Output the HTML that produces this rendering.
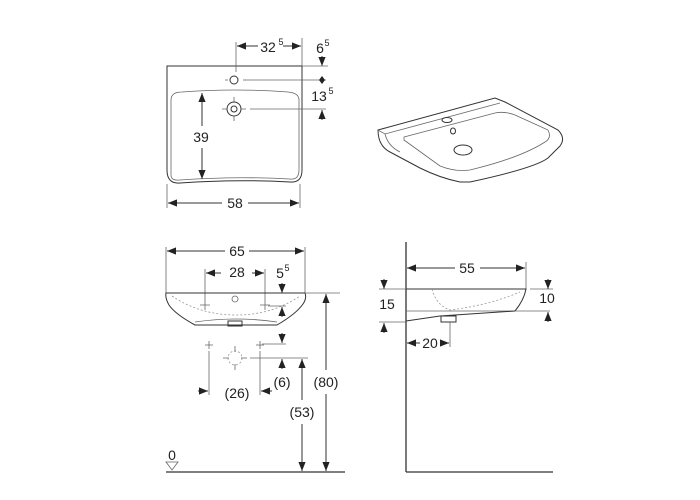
<!DOCTYPE html>
<html><head><meta charset="utf-8"><style>
html,body{margin:0;padding:0;background:#fff}
svg{display:block}
text{font-family:"Liberation Sans",sans-serif;font-size:14px;fill:#222;text-anchor:middle;dominant-baseline:central}
.s{font-size:9px}
.l{stroke:#333;stroke-width:1;fill:none}
.t{stroke:#666;stroke-width:0.8;fill:none}
.d{stroke:#999;stroke-width:0.8;fill:none;stroke-dasharray:2 2}
</style></head><body>
<svg width="700" height="500" viewBox="0 0 700 500">
<defs>
<marker id="a" viewBox="0 0 10 10" refX="10" refY="5" markerWidth="9" markerHeight="9" orient="auto-start-reverse" markerUnits="userSpaceOnUse"><path d="M0,1 L10,5 L0,9 z" fill="#222"/></marker>
</defs>
<!-- TOP VIEW -->
<path class="l" d="M167,66 L302,66 L302,170 Q302,183 290,182 Q235,179 180,183 Q167,184 167,170 Z"/>
<path class="t" d="M171,175 L171,100 Q171,92 182,92 Q235,88 288,92 Q299,93 299,100 L299,170 Q299,180 290,179 Q235,176 180,180 Q171,181 171,175"/>
<circle class="l" cx="234" cy="80" r="4"/>
<circle class="l" cx="234" cy="109" r="7"/><circle class="l" cx="234" cy="109" r="3"/>
<path class="t" d="M222,109h5M241,109h5M234,97v5M234,116v5M228,80h-3M243,80h3"/>
<line class="t" x1="236" y1="42" x2="236" y2="72"/><line class="t" x1="302" y1="38" x2="302" y2="66"/>
<line class="l" x1="237" y1="46" x2="258" y2="46" marker-start="url(#a)"/><line class="l" x1="283" y1="46" x2="301" y2="46" marker-end="url(#a)"/>
<text x="268" y="47">32</text><text class="s" x="281" y="42">5</text>
<text x="320" y="48">6</text><text class="s" x="327" y="43">5</text>
<line class="l" x1="322" y1="56" x2="322" y2="66" marker-end="url(#a)"/>
<line class="t" x1="302" y1="66" x2="328" y2="66"/>
<line class="t" x1="245" y1="80" x2="326" y2="80"/>
<path d="M322,76 L325,80 L322,84 L319,80 Z" fill="#222"/>
<text x="319" y="96">13</text><text class="s" x="331" y="91">5</text>
<line class="t" x1="250" y1="109" x2="326" y2="109"/>
<line class="l" x1="322" y1="120" x2="322" y2="110" marker-end="url(#a)"/>
<line class="l" x1="202" y1="93" x2="202" y2="126" marker-start="url(#a)"/><line class="l" x1="202" y1="148" x2="202" y2="179" marker-end="url(#a)"/>
<text x="201" y="137">39</text>
<line class="t" x1="167" y1="184" x2="167" y2="208"/><line class="t" x1="300" y1="184" x2="300" y2="208"/>
<line class="l" x1="168" y1="203" x2="222" y2="203" marker-start="url(#a)"/><line class="l" x1="248" y1="203" x2="299" y2="203" marker-end="url(#a)"/>
<text x="235" y="203">58</text>
<!-- 3D VIEW -->
<path class="l" d="M378,130 L495,98 L505,102 L558,130 Q566,138 560,146 L548,158 Q535,168 470,182 L460,182 Q440,178 420,168 L390,152 Q378,146 378,130 Z"/>
<path class="t" d="M378,130 L385,134 L500,103 M385,134 Q388,146 400,152"/>
<path class="t" d="M404,137 L495,113 Q505,111 515,115 L548,130 Q552,138 545,142 Q520,158 470,170 Q455,172 440,166 L404,140 Z"/>
<ellipse class="l" cx="447" cy="120" rx="5" ry="2.5"/>
<ellipse class="l" cx="453" cy="131" rx="2.5" ry="3"/>
<ellipse class="l" cx="463" cy="150" rx="9" ry="5"/>
<!-- FRONT VIEW -->
<line class="t" x1="166" y1="247" x2="166" y2="293"/><line class="t" x1="305" y1="247" x2="305" y2="293"/>
<line class="l" x1="167" y1="251" x2="225" y2="251" marker-start="url(#a)"/><line class="l" x1="249" y1="251" x2="304" y2="251" marker-end="url(#a)"/>
<text x="237" y="251">65</text>
<line class="t" x1="205" y1="269" x2="205" y2="300"/><line class="t" x1="265" y1="269" x2="265" y2="300"/>
<line class="l" x1="206" y1="273" x2="221" y2="273" marker-start="url(#a)"/><line class="l" x1="252" y1="273" x2="264" y2="273" marker-end="url(#a)"/>
<text x="237" y="272">28</text>
<text x="280" y="273">5</text><text class="s" x="287" y="268">5</text>
<line class="l" x1="282" y1="283" x2="282" y2="293" marker-end="url(#a)"/>
<path class="l" d="M166,293 L305,293 Q307,298 303,304 Q296,314 277,325 L195,325 Q175,314 169,305 Q165,298 166,293 Z"/>
<path class="d" d="M172,296 Q200,315 236,315 Q272,315 300,296"/>
<path class="t" d="M195,322 Q236,316 277,322"/>
<rect class="l" x="228" y="321" width="14" height="5"/>
<circle class="t" cx="235" cy="299" r="3"/>
<path class="t" d="M200,305h10M205,300v10M260,305h10M265,300v10"/>
<line class="t" x1="268" y1="306" x2="286" y2="306"/>
<line class="l" x1="282" y1="317" x2="282" y2="307" marker-end="url(#a)"/>
<path class="t" d="M205,345h8M209,341v8M256,345h8M260,341v8"/>
<circle class="d" cx="235" cy="358" r="7"/>
<path class="t" d="M223,358h6M241,358h6M235,346v6M235,364v6"/>
<line class="t" x1="209" y1="351" x2="209" y2="395"/><line class="t" x1="260" y1="351" x2="260" y2="395"/>
<line class="l" x1="198" y1="391" x2="208" y2="391" marker-end="url(#a)"/>
<line class="l" x1="272" y1="391" x2="261" y2="391" marker-end="url(#a)"/>
<text x="237" y="393">(26)</text>
<line class="l" x1="282" y1="333" x2="282" y2="343" marker-end="url(#a)"/>
<line class="t" x1="262" y1="344" x2="286" y2="344"/>
<line class="t" x1="250" y1="358" x2="308" y2="358"/>
<line class="l" x1="282" y1="369" x2="282" y2="359" marker-end="url(#a)"/>
<text x="282" y="382">(6)</text>
<line class="l" x1="302" y1="359" x2="302" y2="400" marker-start="url(#a)"/><line class="l" x1="302" y1="424" x2="302" y2="471" marker-end="url(#a)"/>
<text x="302" y="412">(53)</text>
<line class="t" x1="305" y1="293" x2="340" y2="293"/>
<line class="l" x1="326" y1="294" x2="326" y2="370" marker-start="url(#a)"/><line class="l" x1="326" y1="394" x2="326" y2="471" marker-end="url(#a)"/>
<text x="326" y="382">(80)</text>
<line x1="166" y1="472" x2="345" y2="472" stroke="#333" stroke-width="1.3"/>
<text x="172" y="455">0</text>
<path class="t" d="M166,462 L178,462 L172,470 Z"/>
<!-- SIDE VIEW -->
<line x1="406" y1="242" x2="406" y2="472" stroke="#333" stroke-width="1.3"/>
<line x1="406" y1="472" x2="553" y2="472" stroke="#333" stroke-width="1.3"/>
<line class="t" x1="526" y1="262" x2="526" y2="289"/>
<line class="l" x1="407" y1="268" x2="455" y2="268" marker-start="url(#a)"/><line class="l" x1="480" y1="268" x2="525" y2="268" marker-end="url(#a)"/>
<text x="467" y="268">55</text>
<path class="l" d="M406,289 L526,289 Q524,300 515,311"/>
<path class="t" d="M406,311 L550,311"/>
<path class="l" d="M406,321 L440,316 L515,311"/>
<rect class="l" x="441" y="316" width="15" height="6"/>
<path class="d" d="M432,289 Q436,305 450,310 Q490,305 520,292"/>
<line class="l" x1="384" y1="279" x2="384" y2="289" marker-end="url(#a)"/>
<line class="t" x1="379" y1="289" x2="406" y2="289"/>
<text x="387" y="304">15</text>
<line class="t" x1="379" y1="322" x2="406" y2="322"/>
<line class="l" x1="384" y1="333" x2="384" y2="323" marker-end="url(#a)"/>
<line class="t" x1="530" y1="289" x2="553" y2="289"/>
<line class="l" x1="548" y1="279" x2="548" y2="289" marker-end="url(#a)"/>
<text x="547" y="298">10</text>
<line class="l" x1="548" y1="322" x2="548" y2="312" marker-end="url(#a)"/>
<line class="t" x1="450" y1="322" x2="450" y2="347"/>
<line class="l" x1="407" y1="343" x2="420" y2="343" marker-start="url(#a)"/><line class="l" x1="441" y1="343" x2="449" y2="343" marker-end="url(#a)"/>
<text x="430" y="343">20</text>
</svg>
</body></html>
